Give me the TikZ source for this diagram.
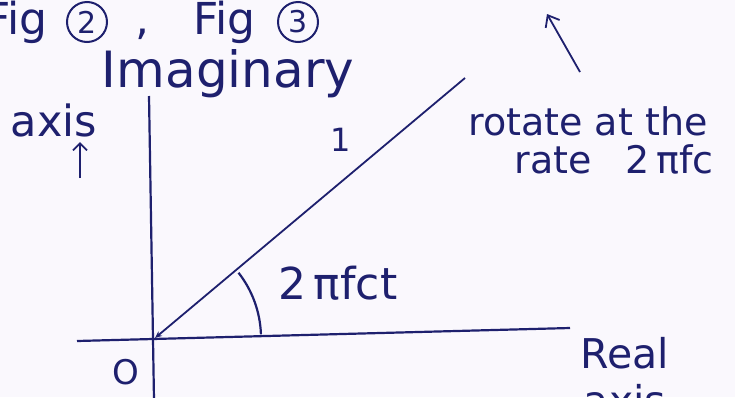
\documentclass[tikz,border=0pt]{standalone}
\usepackage{fontspec}
\setmainfont{DejaVu Sans}
\usetikzlibrary{arrows.meta}
\definecolor{ink}{RGB}{30,32,110}
\definecolor{paper}{RGB}{250,248,253}
\tikzset{
  hand/.style={text=ink,inner sep=0pt,font=\fontsize{38}{40}\selectfont},
  handbig/.style={hand,font=\fontsize{44}{46}\selectfont},
  circnum/.style={hand,draw=ink,circle,line width=2pt,minimum size=40pt,font=\fontsize{30}{32}\selectfont},
  axisline/.style={draw=ink,line width=2.2pt},
}
\begin{document}
\begin{tikzpicture}[x=1pt,y=-1pt,>=Stealth]
  \useasboundingbox (0,0) rectangle (735,397);
  \fill[paper] (0,0) rectangle (735,397);
  \clip (0,0) rectangle (735,397);

  % axes
  \coordinate (o) at (155,338);
  \coordinate (ytop) at (149,96);
  \coordinate (ybot) at (154,400);
  \coordinate (xleft) at (77,341);
  \coordinate (xright) at (570,328);
  \coordinate (tip) at (465,78);
  \draw[axisline] (ytop) -- (ybot);
  \draw[axisline] (xleft) -- (xright);
  \draw[axisline,line width=1.8pt,{Stealth[length=7pt,width=6pt]}-] (o) -- (tip);
  \draw[axisline] ([shift={(-2:106)}]o) arc (-2:-38:106);

  % labels
  \node[handbig,anchor=base east] (figa) at (48,34) {Fig};
  \node[circnum] (numa) at (87,22) {2};
  \node[handbig,anchor=base] (comma) at (142,34) {,};
  \node[handbig,anchor=base west] (figb) at (193,34) {Fig};
  \node[circnum] (numb) at (298,22) {3};
  \node[handbig,font=\fontsize{50}{52}\selectfont] (imag) at (228,74) {Imaginary};
  \node[hand,font=\fontsize{43}{45}\selectfont] (yaxis) at (54,120) {axis};
  \coordinate (ya) at (80,178);
  \coordinate (yb) at (80,142);
  \draw[ink,line width=1.8pt,-{Straight Barb[length=7pt,width=14pt]}] (ya) -- (yb);
  \node[hand,font=\fontsize{34}{36}\selectfont] (zero) at (126,372) {O};
  \node[hand,font=\fontsize{32}{34}\selectfont] (one) at (341,140) {1};
  \node[hand,font=\fontsize{44}{46}\selectfont] (angle) at (338,283) {2\,πfct};
  \node[hand,font=\fontsize{38}{40}\selectfont] (rot1) at (588,121) {rotate at the};
  \node[hand,font=\fontsize{38}{40}\selectfont] (rot2) at (614,159) {rate\hspace{0.9em}2\,πfc};
  \node[hand,font=\fontsize{41}{43}\selectfont] (real) at (625,353) {Real};
  \node[hand,font=\fontsize{41}{43}\selectfont] (xaxis) at (625,400) {axis};
  \coordinate (ra) at (580,72);
  \coordinate (rb) at (547,14);
  \draw[ink,line width=1.8pt,-{Straight Barb[length=10pt,width=16pt]}] (ra) -- (rb);
\end{tikzpicture}
\end{document}
